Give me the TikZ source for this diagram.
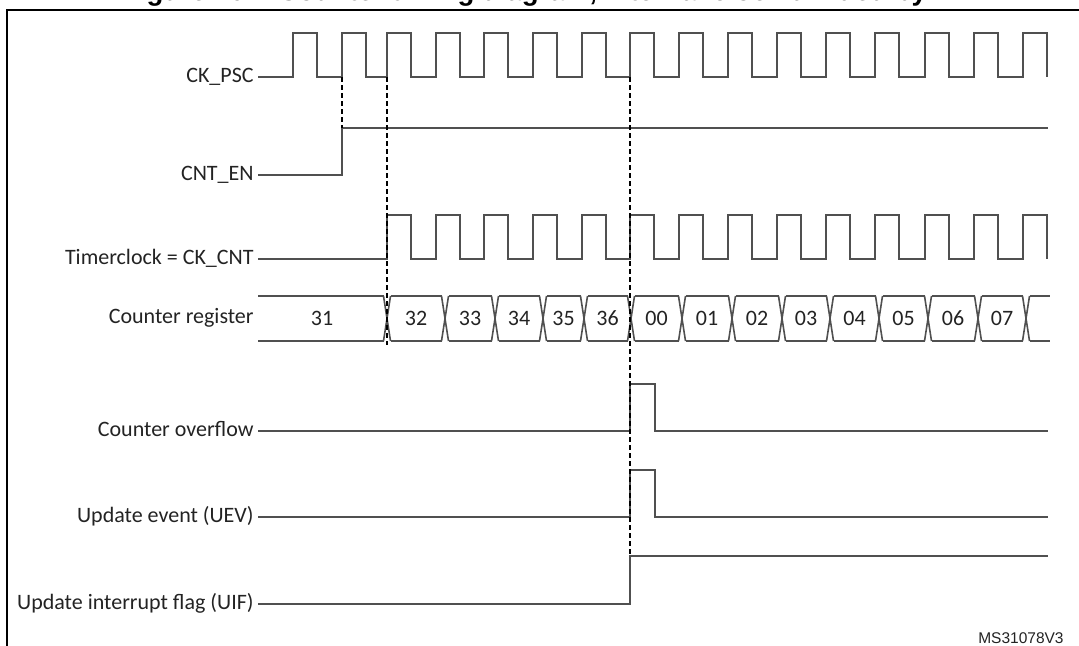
\documentclass[tikz,border=0pt]{standalone}
\usepackage{fontspec}
\setmainfont{Carlito}
\newfontfamily\arialfont{Liberation Sans}
\definecolor{wave}{RGB}{80,80,80}
\definecolor{ink}{RGB}{35,35,35}
\newcommand{\siglabel}[3]{\node[lbl] (#1) at (254, #3 + 5) {#2};}
\newcommand{\busx}[1]{\draw[signal] (#1 - 3.5, 296) -- (#1 + 3.5, 341);
\draw[signal] (#1 - 3.5, 341) -- (#1 + 3.5, 296);}
\tikzset{
  signal/.style={draw=wave, line width=0.8pt, line join=miter},
  guide/.style={draw=black, line width=0.65pt, dash pattern=on 2.5pt off 1.5pt},
  lbl/.style={anchor=base east, inner sep=0pt, text=ink, font=\fontsize{11}{13}\selectfont},
  frame/.style={draw=black, line width=1.4pt, line join=miter}
}

\begin{document}
\begin{tikzpicture}[x=0.5pt, y=-0.5pt]
  \useasboundingbox (0, 0) rectangle (1079, 645);
  \node[anchor=base, inner sep=0pt, font=\arialfont\bfseries\fontsize{13.8}{15}\selectfont] (title) at (536, 0.5)
    {Figure 101. Counter timing diagram, internal clock divided by 1};
  \draw[frame] (7, 660) -- (7, 10) -- (1090, 10);

  \siglabel{psc}{CK\_PSC}{77}
  \siglabel{en}{CNT\_EN}{175}
  \siglabel{cnt}{Timerclock = CK\_CNT}{259}
  \siglabel{reg}{Counter register}{318}
  \siglabel{ovf}{Counter overflow}{431}
  \siglabel{uev}{Update event (UEV)}{517}
  \siglabel{uif}{Update interrupt flag (UIF)}{604}

  \draw[signal] (258, 77) \foreach \r in {293,342,387,436,484,533,582,630,679,728,777,826,875,925,974,1023}
    { -- (\r, 77) -- (\r, 33) -- (\r + 24, 33) -- (\r + 24, 77) };
  \draw[signal] (258, 175) -- (342, 175) -- (342, 128) -- (1048, 128);
  \draw[signal] (258, 259) \foreach \r in {387,436,484,533,582,630,679,728,777,826,875,925,974,1023}
    { -- (\r, 259) -- (\r, 215) -- (\r + 24, 215) -- (\r + 24, 259) };

  % counter register
  \draw[signal] (258, 296) -- (383.5, 296) (258, 341) -- (383.5, 341);
  \node[lbl, anchor=center] (v31) at (322, 318) {31};
  \foreach \a/\b/\v in {387/445/32, 445/495/33, 495/543/34, 543/584/35, 584/631/36, 631/682/00, 682/732/01,
    732/782/02, 782/830/03, 830/879/04, 879/928/05, 928/978/06, 978/1026/07} {
    \busx{\a}
    \draw[signal] (\a + 3.5, 296) -- (\b - 3.5, 296) (\a + 3.5, 341) -- (\b - 3.5, 341);
    \node[lbl, anchor=center] (v\v) at ({(\a + \b)/2}, 318) {\v};
  }
  \busx{1026}
  \draw[signal] (1029.5, 296) -- (1050, 296) (1029.5, 341) -- (1050, 341);

  \draw[signal] (258, 431) -- (630, 431) -- (630, 384) -- (655, 384) -- (655, 431) -- (1048, 431);
  \draw[signal] (258, 517) -- (630, 517) -- (630, 470) -- (655, 470) -- (655, 517) -- (1048, 517);
  \draw[signal] (258, 604) -- (630, 604) -- (630, 556) -- (1048, 556);

  \draw[guide] (342, 77) -- (342, 128);
  \draw[guide] (387, 77) -- (387, 345);
  \draw[guide] (630, 77) -- (630, 556);

  \node[anchor=base east, inner sep=0pt, text=ink, font=\arialfont\fontsize{7.75}{9}\selectfont] (ref) at (1064, 643) {MS31078V3};
\end{tikzpicture}
\end{document}
